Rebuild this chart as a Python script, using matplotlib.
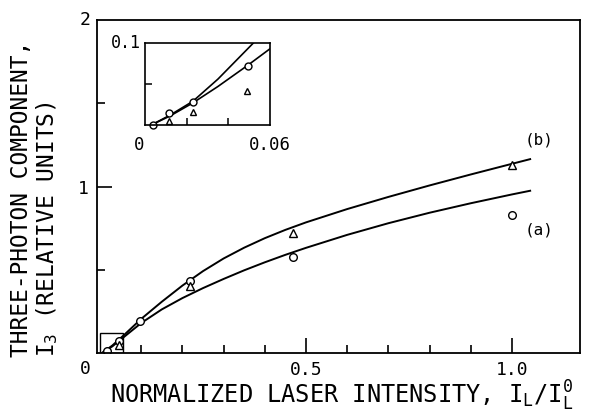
import matplotlib
matplotlib.use('Agg')
import matplotlib.pyplot as plt
from matplotlib.patches import Rectangle

plt.rcParams['font.family'] = ['DejaVu Sans Mono']
plt.rcParams['mathtext.fontset'] = 'custom'
plt.rcParams['mathtext.rm'] = 'DejaVu Sans Mono'
plt.rcParams['mathtext.it'] = 'DejaVu Sans Mono'
plt.rcParams['mathtext.default'] = 'rm'

# --- data ---
# measured points
circ_x = [0.017, 0.046, 0.097, 0.218, 0.469, 1.0]
circ_y = [0.012, 0.075, 0.195, 0.434, 0.578, 0.83]
tri_x = [0.046, 0.218, 0.469, 1.0]
tri_y = [0.05, 0.40, 0.72, 1.127]

# fitted curves (traced)
curve_x = [0.005, 0.03, 0.06, 0.10, 0.15, 0.20, 0.25, 0.30, 0.35, 0.40, 0.45,
           0.50, 0.60, 0.70, 0.80, 0.90, 1.00, 1.044]
curve_a_y = [0.0, 0.04, 0.10, 0.18, 0.262, 0.33, 0.39, 0.445, 0.497, 0.545, 0.59,
             0.632, 0.71, 0.78, 0.843, 0.90, 0.953, 0.975]
curve_b_y = [0.0, 0.045, 0.112, 0.205, 0.308, 0.405, 0.492, 0.568, 0.633, 0.69, 0.74,
             0.785, 0.865, 0.938, 1.007, 1.073, 1.137, 1.165]

# inset (low intensity region)
in_circ_x = [0.0038, 0.0115, 0.023, 0.0494]
in_circ_y = [0.0, 0.0146, 0.028, 0.072]
in_tri_x = [0.0115, 0.023, 0.049]
in_tri_y = [0.005, 0.016, 0.041]
in_line1_x = [0.003, 0.012, 0.023, 0.035, 0.052]
in_line1_y = [0.0, 0.012, 0.029, 0.056, 0.1]
in_line2_x = [0.003, 0.012, 0.023, 0.035, 0.0494, 0.06]
in_line2_y = [0.0, 0.011, 0.027, 0.047, 0.073, 0.093]

fig = plt.figure(figsize=(5.91, 4.12), dpi=100)
ax = fig.add_axes([0.1641, 0.1432, 0.8173, 0.8078])

ax.plot(curve_x, curve_a_y, color='black', lw=1.4)
ax.plot(curve_x, curve_b_y, color='black', lw=1.4)
ax.plot(circ_x, circ_y, 'o', ms=5.5, mfc='white', mec='black', mew=1.0)
ax.plot(tri_x, tri_y, '^', ms=5.5, mfc='white', mec='black', mew=1.0)

# box marking the inset region
ax.add_patch(Rectangle((0, 0), 0.055, 0.12, fill=False, lw=1.0, ec='black'))

ax.set_xlim(-0.0073, 1.165)
ax.set_ylim(0, 2.0)
ax.set_xticks([0.5, 1.0], labels=['0.5', '1.0'])
ax.set_xticks([0.1, 0.2, 0.3, 0.4, 0.6, 0.7, 0.8, 0.9], minor=True)
ax.set_yticks([1], labels=['1'])
ax.set_yticks([0.5, 1.5], minor=True)
ax.tick_params(direction='in', which='major', length=11, width=1.2, labelsize=13, pad=6)
ax.tick_params(direction='in', which='minor', length=6, width=1.2)
for s in ax.spines.values():
    s.set_linewidth(1.3)

ax.text(-0.022, 2.0, '2', ha='right', va='center', fontsize=13)
fig.text(85 / 591, 1 - 369 / 412, '0', ha='center', va='center', fontsize=13)

ax.text(1.03, 1.28, '(b)', fontsize=11.5, ha='left', va='center')
ax.text(1.03, 0.74, '(a)', fontsize=11.5, ha='left', va='center')

fig.text(342 / 591, 1 - 396 / 412, 'NORMALIZED LASER INTENSITY, I$_L$/I$_L^0$',
         ha='center', va='center', fontsize=17)
fig.text(22 / 591, 1 - 357 / 412, 'THREE-PHOTON COMPONENT,', rotation=90,
         ha='center', va='bottom', fontsize=16.5)
fig.text(47 / 591, 1 - 357 / 412, 'I$_3$ (RELATIVE UNITS)', rotation=90,
         ha='center', va='bottom', fontsize=16.5)

# --- inset ---
axi = fig.add_axes([0.2454, 0.6966, 0.2115, 0.199])
axi.plot(in_line1_x, in_line1_y, color='black', lw=1.2)
axi.plot(in_line2_x, in_line2_y, color='black', lw=1.2)
axi.plot(in_circ_x, in_circ_y, 'o', ms=5, mfc='white', mec='black', mew=1.0, clip_on=False)
axi.plot(in_tri_x, in_tri_y, '^', ms=4.5, mfc='white', mec='black', mew=1.0)
axi.set_xlim(0, 0.06)
axi.set_ylim(0, 0.1)
axi.set_xticks([0.02, 0.04], labels=['', ''])
axi.set_yticks([0.05], labels=[''])
axi.tick_params(direction='in', length=5, width=1.1)
for s in axi.spines.values():
    s.set_linewidth(1.2)
axi.text(-0.002, 0.1, '0.1', ha='right', va='center', fontsize=12)
axi.text(-0.003, -0.014, '0', ha='center', va='top', fontsize=12.5)
axi.text(0.06, -0.014, '0.06', ha='center', va='top', fontsize=12.5)

fig.savefig('out.png', dpi=100)
